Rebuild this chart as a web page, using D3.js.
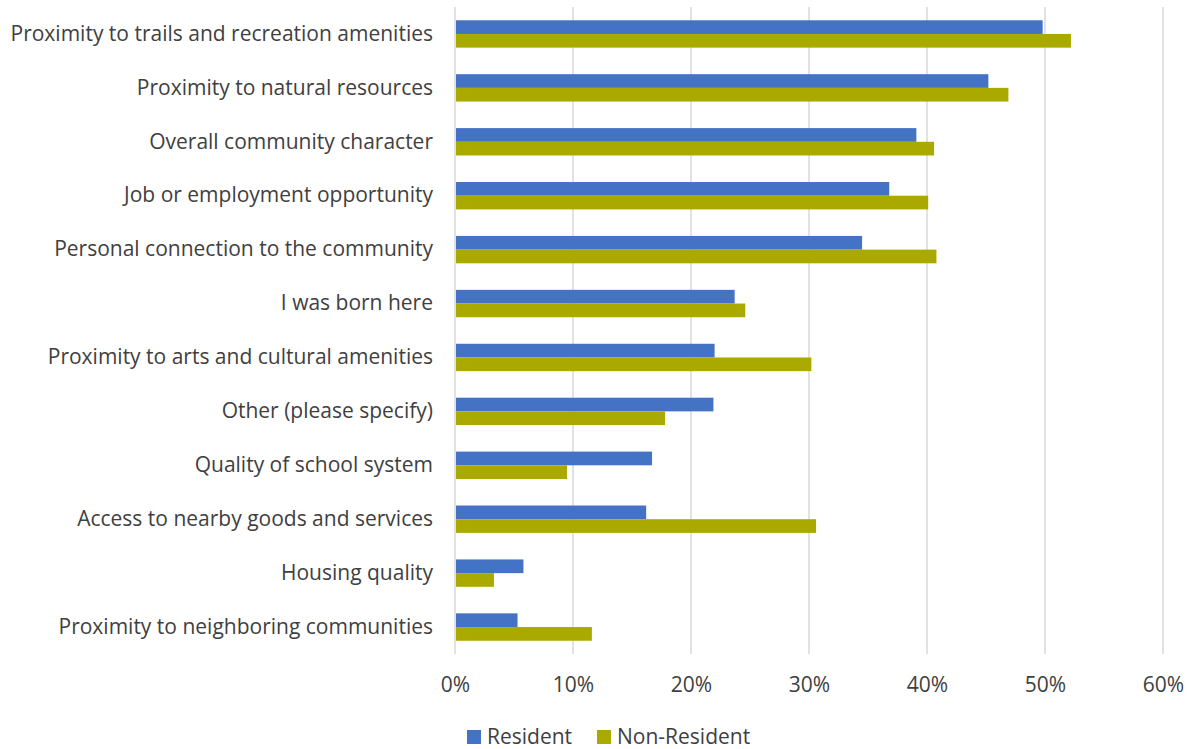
<!DOCTYPE html>
<html>
<head>
<meta charset="utf-8">
<script src="https://cdn.jsdelivr.net/npm/d3@7"></script>
<style>
  html, body { margin: 0; padding: 0; background: #fff; }
  svg { display: block; }
  text { font-family: "Open Sans", Lato, sans-serif; fill: #404040; }
</style>
</head>
<body>
<svg id="chart" width="1189" height="749"></svg>
<script>
// Reasons for choosing the community, by respondent type
const categories = [
  "Proximity to trails and recreation amenities",
  "Proximity to natural resources",
  "Overall community character",
  "Job or employment opportunity",
  "Personal connection to the community",
  "I was born here",
  "Proximity to arts and cultural amenities",
  "Other (please specify)",
  "Quality of school system",
  "Access to nearby goods and services",
  "Housing quality",
  "Proximity to neighboring communities"
];
const seriesNames = ["Resident", "Non-Resident"];
const resident    = [49.8, 45.2, 39.1, 36.8, 34.5, 23.7, 22.0, 21.9, 16.7, 16.2, 5.8, 5.3];
const nonResident = [52.2, 46.9, 40.6, 40.1, 40.8, 24.6, 30.2, 17.8, 9.5, 30.6, 3.3, 11.6];
const tickValues  = [0, 10, 20, 30, 40, 50, 60];
const colors = ["#4472C4", "#A9A900"];

const svg = d3.select("#chart");
const margin = { top: 7, left: 455, right: 26, bottom: 95 };
const width = 1189, height = 749;
const FONT = "'Open Sans', Lato, sans-serif";
const FS = 21;

const x = d3.scaleLinear().domain([0, 60]).range([margin.left, width - margin.right]);
const y = d3.scaleBand().domain(categories).range([margin.top, height - margin.bottom]).paddingInner(0).paddingOuter(0);
const barGroupH = y.bandwidth() / 1.97;
const inner = d3.scaleBand().domain(seriesNames).range([0, barGroupH]);

// vertical gridlines
svg.append("g")
  .selectAll("line")
  .data(tickValues)
  .join("line")
  .attr("x1", d => x(d)).attr("x2", d => x(d))
  .attr("y1", margin.top).attr("y2", height - margin.bottom)
  .attr("stroke", "#d9d9d9").attr("stroke-width", 1.5);

// bars
const rows = categories.map((c, i) => ({ cat: c, vals: [resident[i], nonResident[i]] }));
const groups = svg.append("g").selectAll("g")
  .data(rows)
  .join("g")
  .attr("transform", d => `translate(0,${y(d.cat) + (y.bandwidth() - barGroupH) / 2})`);

groups.selectAll("rect")
  .data(d => d.vals.map((v, k) => ({ name: seriesNames[k], v, k })))
  .join("rect")
  .attr("x", x(0) + 1)
  .attr("y", d => inner(d.name))
  .attr("width", d => x(d.v) - x(0) - 1)
  .attr("height", inner.bandwidth())
  .attr("fill", d => colors[d.k]);

// category labels
const yAxis = d3.axisLeft(y).tickSize(0).tickPadding(22);
const gy = svg.append("g").attr("transform", `translate(${margin.left},0)`).call(yAxis);
gy.select(".domain").remove();
gy.selectAll("text").attr("font-size", FS).attr("font-family", FONT).attr("fill", "#404040").attr("dy", "0.32em");

// value axis labels
const xAxis = d3.axisBottom(x).tickValues(tickValues).tickSize(0).tickPadding(23).tickFormat(d => d + "%");
const gx = svg.append("g").attr("transform", `translate(0,${height - margin.bottom})`).call(xAxis);
gx.select(".domain").remove();
gx.selectAll("text").attr("font-size", FS).attr("font-family", FONT).attr("fill", "#404040");

// legend
const legend = svg.append("g").attr("transform", "translate(467,737)");
const legendX = [0, 130];
seriesNames.forEach((name, k) => {
  const g = legend.append("g").attr("transform", `translate(${legendX[k]},0)`);
  g.append("rect").attr("x", 0).attr("y", -7).attr("width", 14).attr("height", 14).attr("fill", colors[k]);
  g.append("text").attr("x", 20).attr("y", 0).attr("dy", "0.35em").attr("font-size", FS).text(name);
});
</script>
</body>
</html>
